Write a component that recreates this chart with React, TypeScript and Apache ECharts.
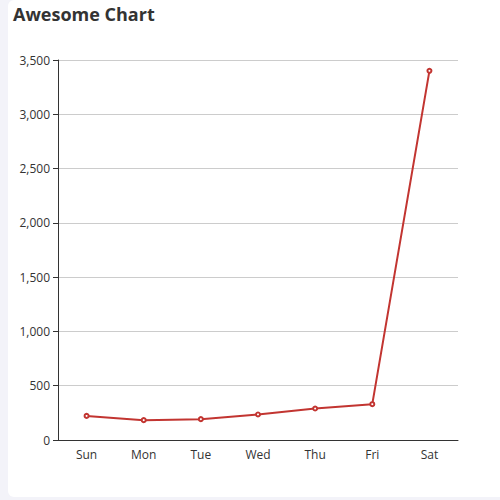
import { useEffect, useRef } from 'react';
import * as echarts from 'echarts';

const days = ['Sun', 'Mon', 'Tue', 'Wed', 'Thu', 'Fri', 'Sat'];
const values = [222, 183, 192, 235, 290, 330, 3400];

const FONT = '"Open Sans", "Noto Sans", sans-serif';

export default function App() {
  const ref = useRef<HTMLDivElement>(null);

  useEffect(() => {
    if (!ref.current) return;
    const chart = echarts.init(ref.current, undefined, { renderer: 'svg' });
    chart.setOption({
      animation: false,
      backgroundColor: 'transparent',
      textStyle: { fontFamily: FONT },
      title: {
        text: 'Awesome Chart',
        left: 0,
        top: 0,
        textStyle: { fontSize: 18, fontWeight: 'bold', color: '#333', fontFamily: FONT },
      },
      grid: { left: 50, right: 42, top: 60, bottom: 57 },
      xAxis: {
        type: 'category',
        data: days,
        axisLine: { lineStyle: { color: '#333' } },
        axisTick: { lineStyle: { color: '#333' } },
        axisLabel: { color: '#333', fontSize: 12 },
      },
      yAxis: {
        type: 'value',
        min: 0,
        max: 3500,
        interval: 500,
        axisLine: { show: true, lineStyle: { color: '#333' } },
        axisTick: { show: true, lineStyle: { color: '#333' } },
        axisLabel: { color: '#333', fontSize: 12 },
        splitLine: { lineStyle: { color: '#ccc' } },
      },
      series: [
        {
          type: 'line',
          data: values,
          symbol: 'emptyCircle',
          symbolSize: 4,
          lineStyle: { color: '#c23531', width: 2 },
          itemStyle: { color: '#c23531' },
        },
      ],
    });
    return () => chart.dispose();
  }, []);

  return (
    <div style={{ position: 'fixed', inset: 0, background: '#f3f3f9' }}>
      <div
        style={{
          position: 'absolute',
          left: 8,
          top: 0,
          width: 500,
          height: 497,
          background: '#fff',
          borderRadius: 6,
          overflow: 'hidden',
        }}
      >
        <div ref={ref} style={{ width: 492, height: 497 }} />
      </div>
    </div>
  );
}
